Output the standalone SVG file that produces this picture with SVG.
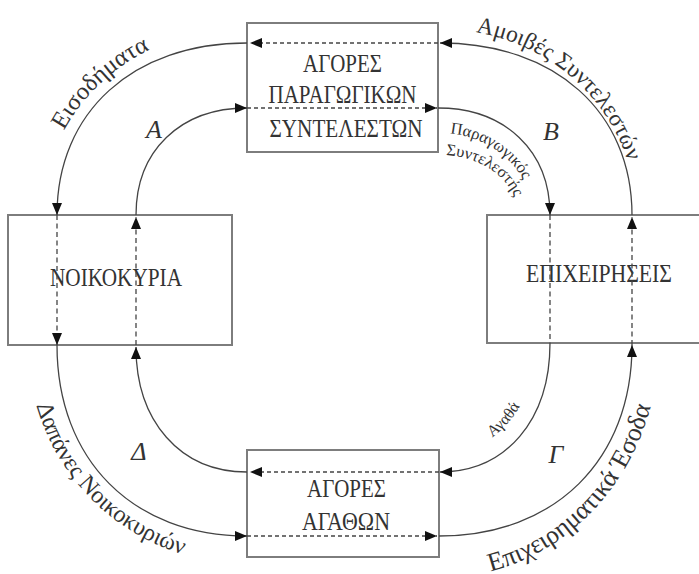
<svg xmlns="http://www.w3.org/2000/svg" width="699" height="574" viewBox="0 0 699 574">
<style>
.box{fill:#fff;stroke:#7d7d7d;stroke-width:2}
.bt{font-family:"Liberation Serif","Times New Roman",serif;font-size:26px;fill:#333;text-anchor:middle}
.cl{fill:none;stroke:#444;stroke-width:1.3}
.dash{fill:none;stroke:#444;stroke-width:1.3;stroke-dasharray:5 3.5}
.dot{fill:none;stroke:#444;stroke-width:1.3;stroke-dasharray:4 3}
.lt{font-family:"Liberation Serif","Times New Roman",serif;fill:#333}
.big{font-size:26px;font-style:italic;text-anchor:middle}
</style>
<defs>
<marker id="ah" viewBox="0 0 12 10" refX="12" refY="5" markerWidth="12" markerHeight="10" markerUnits="userSpaceOnUse" orient="auto">
<path d="M0,0 L12,5 L0,10 z" fill="#111"/>
</marker>
<path id="pEis" d="M42,215 A205,188 0 0 1 247,27"/>
<path id="pAmo" d="M440,29 A196,186 0 0 1 636,215"/>
<path id="pDap" d="M28,345 A219,219 0 0 0 247,564"/>
<path id="pEpi" d="M439,578 A220,236 0 0 0 659,345"/>
<path id="pPar" d="M440,133 A92,82 0 0 1 532,215"/>
<path id="pSyn" d="M440,155 A78,60 0 0 1 518,215"/>
<path id="pAga" d="M440,455 A97,112 0 0 0 537,343"/>
</defs>

<g id="node-agores-paragogikon">
<rect class="box" x="247" y="23" width="191" height="129"/>
<text class="bt" x="342.5" y="72" textLength="79" lengthAdjust="spacingAndGlyphs">ΑΓΟΡΕΣ</text>
<text class="bt" x="342.5" y="103" textLength="148" lengthAdjust="spacingAndGlyphs">ΠΑΡΑΓΩΓΙΚΩΝ</text>
<text class="bt" x="346" y="137" textLength="153" lengthAdjust="spacingAndGlyphs">ΣΥΝΤΕΛΕΣΤΩΝ</text>
</g>
<g id="node-noikokyria">
<rect class="box" x="8" y="215" width="224" height="130"/>
<text class="bt" x="116" y="286" textLength="132" lengthAdjust="spacingAndGlyphs">ΝΟΙΚΟΚΥΡΙΑ</text>
</g>
<g id="node-epixeiriseis">
<rect class="box" x="487" y="215" width="213" height="128"/>
<text class="bt" x="599" y="282" textLength="146" lengthAdjust="spacingAndGlyphs">ΕΠΙΧΕΙΡΗΣΕΙΣ</text>
</g>
<g id="node-agores-agathon">
<rect class="box" x="247" y="450" width="192" height="107"/>
<text class="bt" x="346.5" y="497" textLength="79" lengthAdjust="spacingAndGlyphs">ΑΓΟΡΕΣ</text>
<text class="bt" x="346" y="530" textLength="88" lengthAdjust="spacingAndGlyphs">ΑΓΑΘΩΝ</text>
</g>

<g id="connectors">
<path class="dot" d="M438,43 L250,43" marker-end="url(#ah)"/>
<path class="cl" d="M247,43 C133,43 57,112 57,215" marker-end="url(#ah)"/>
<path class="dash" d="M57,215 L57,345" marker-end="url(#ah)"/>
<path class="cl" d="M57,345 C57,460 133,536 247,536" marker-end="url(#ah)"/>
<path class="dot" d="M247,536 L437,536" marker-end="url(#ah)"/>
<path class="cl" d="M439,536 C555,536 632,460 632,345" marker-end="url(#ah)"/>
<path class="dash" d="M632,345 L632,217" marker-end="url(#ah)"/>
<path class="cl" d="M632,215 C632,112 555,43 440,43" marker-end="url(#ah)"/>
<path class="dash" d="M136,345 L136,217" marker-end="url(#ah)"/>
<path class="cl" d="M136,215 C136,151 180,108 247,108" marker-end="url(#ah)"/>
<path class="dot" d="M247,108 L437,108" marker-end="url(#ah)"/>
<path class="cl" d="M438,108 C505,108 550,151 550,215" marker-end="url(#ah)"/>
<path class="dash" d="M550,215 L550,343"/>
<path class="cl" d="M550,343 C550,420 506,472 440,472" marker-end="url(#ah)"/>
<path class="dot" d="M439,472 L250,472" marker-end="url(#ah)"/>
<path class="cl" d="M247,472 C180,472 136,421 136,347" marker-end="url(#ah)"/>
</g>

<g id="labels">
<text class="lt" font-size="24.5"><textPath href="#pEis" startOffset="88">Εισοδήματα</textPath></text>
<text class="lt" font-size="23.5"><textPath href="#pAmo" startOffset="36">Αμοιβές Συντελεστών</textPath></text>
<text class="lt" font-size="24"><textPath href="#pDap" startOffset="61">Δαπάνες Νοικοκυριών</textPath></text>
<text class="lt" font-size="26"><textPath href="#pEpi" startOffset="52">Επιχειρηματικά Έσοδα</textPath></text>
<text class="lt" font-size="16.5"><textPath href="#pPar" startOffset="10">Παραγωγικός</textPath></text>
<text class="lt" font-size="16.5"><textPath href="#pSyn" startOffset="6">Συντελεστής</textPath></text>
<text class="lt" font-size="16"><textPath href="#pAga" startOffset="56">Αγαθά</textPath></text>
<text class="lt big" x="154" y="138">Α</text>
<text class="lt big" x="551" y="140">Β</text>
<text class="lt big" x="556" y="463">Γ</text>
<text class="lt big" x="139" y="460">Δ</text>
</g>
</svg>
